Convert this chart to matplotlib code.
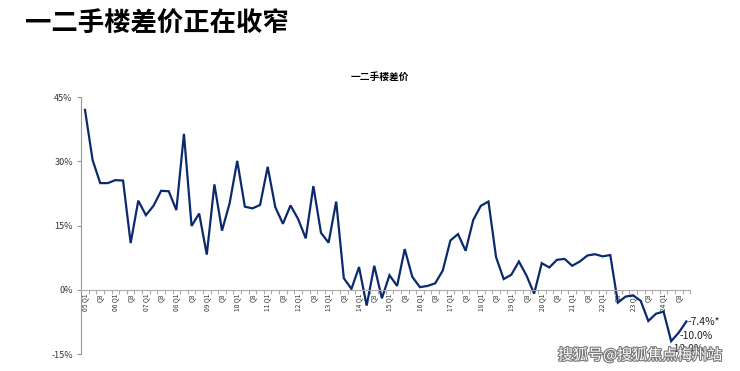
import matplotlib.pyplot as plt
import matplotlib.patheffects as pe
from matplotlib.ticker import FixedLocator

plt.rcParams['font.family'] = ['Noto Sans CJK SC', 'DejaVu Sans']

# quarterly price gap between new and second-hand homes, 05 Q1 .. 24 Q4 (%)
years = [f"{y:02d}" for y in range(5, 25)]
quarters = [f"{y} Q{q}" for y in years for q in range(1, 5)]
gap = [42.0, 30.3, 24.9, 24.9, 25.6, 25.5, 10.9, 20.8,
       17.4, 19.6, 23.1, 23.0, 18.6, 36.4, 14.9, 17.8,
       8.2, 24.6, 13.8, 20.2, 30.1, 19.4, 19.0, 19.8,
       28.7, 19.3, 15.4, 19.7, 16.5, 12.0, 24.2, 13.3,
       11.0, 20.6, 2.7, 0.2, 5.3, -3.7, 5.6, -2.0,
       3.4, 0.9, 9.5, 3.0, 0.6, 0.9, 1.5, 4.5,
       11.5, 13.0, 9.1, 16.3, 19.6, 20.6, 7.6, 2.5,
       3.5, 6.6, 3.3, -0.9, 6.2, 5.2, 7.0, 7.2,
       5.6, 6.6, 8.0, 8.3, 7.8, 8.1, -3.0, -1.6,
       -1.3, -2.6, -7.3, -5.6, -5.1, -12.0, -10.0, -7.4]
yticks = [-15, 0, 15, 30, 45]
end_labels = ["-12.0%", "-10.0%", "-7.4%*"]

fig = plt.figure(figsize=(7.4, 3.71), dpi=100)
fig.text(0.034, 0.935, "一二手楼差价正在收窄", fontsize=19, fontweight='bold',
         va='center', ha='left', color='black')

ax = fig.add_axes([0.1097, 0.0458, 0.823, 0.6927])
x = list(range(len(gap)))
ax.plot(x, gap, color='#0b2a6e', lw=1.6, solid_joinstyle='miter')
ax.set_xlim(-0.5, len(gap) - 0.5)
ax.set_ylim(-15, 45)
ax.set_title("一二手楼差价", fontsize=7, fontweight='bold', pad=12, x=0.49)

ax.set_yticks(yticks)
ax.set_yticklabels([f"{v}%" for v in yticks], fontsize=6.5, color='#333333')
ax.tick_params(axis='y', length=3, color='#999999', pad=3)

for s in ['top', 'right']:
    ax.spines[s].set_visible(False)
ax.spines['left'].set_color('#999999')
ax.spines['bottom'].set_position(('data', 0))
ax.spines['bottom'].set_color('#aaaaaa')

# tick marks between categories, labels on every second quarter
ax.xaxis.set_major_locator(FixedLocator([i - 0.5 for i in range(len(gap) + 1)]))
ax.tick_params(axis='x', which='major', length=3, color='#aaaaaa', labelbottom=False)
lab_pos = [i for i in x if i % 2 == 0]
lab_txt = [quarters[i] if i % 4 == 0 else "Q3" for i in lab_pos]
ax.set_xticks(lab_pos, minor=True)
ax.set_xticklabels(lab_txt, minor=True, rotation=90, fontsize=4.8, color='#333333')
ax.tick_params(axis='x', which='minor', length=0, pad=3)

# value labels for the last three quarters
offs = [(-0.1, -1.8), (0.1, -0.7), (0.2, -0.1)]
for k, t in enumerate(end_labels):
    i = len(gap) - 3 + k
    dx, dy = offs[k]
    ax.text(i + dx, gap[i] + dy, t, fontsize=7.5, color='#222222',
            va='center', ha='left', clip_on=False)

fig.text(0.976, 0.043, "搜狐号@搜狐焦点梅州站", fontsize=10.8, ha='right', va='center',
         color='white', path_effects=[pe.withStroke(linewidth=1.6, foreground='#777777')])

fig.savefig("out.png", dpi=100)
